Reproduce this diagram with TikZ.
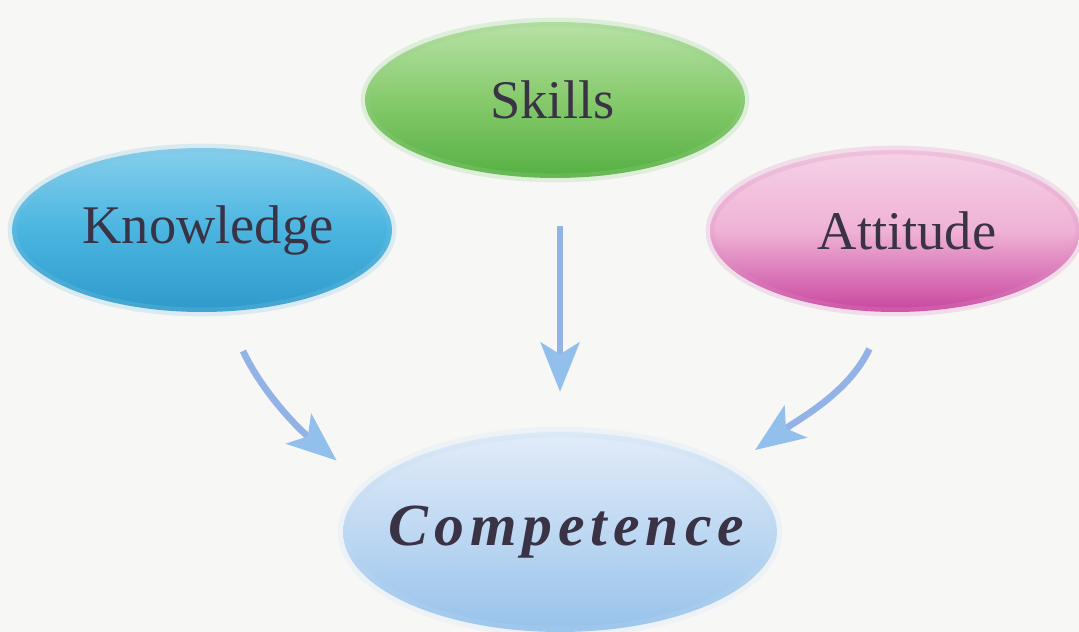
\documentclass[tikz,border=0pt]{standalone}
\usepackage{fontspec}
\setmainfont{Liberation Serif}
\usetikzlibrary{shapes.geometric,arrows.meta,calc}
\definecolor{bg}{HTML}{F7F8F6}
\definecolor{txt}{HTML}{3A3346}
\definecolor{kTop}{HTML}{86CFEC}
\definecolor{kMid}{HTML}{4AB5E0}
\definecolor{kBot}{HTML}{2E9ACB}
\definecolor{sTop}{HTML}{B8E2A6}
\definecolor{sMid}{HTML}{86CA6C}
\definecolor{sBot}{HTML}{55B042}
\definecolor{aTop}{HTML}{F5D2E6}
\definecolor{aMid}{HTML}{EFB2D5}
\definecolor{aBot}{HTML}{C8459E}
\definecolor{cTop}{HTML}{E2ECF8}
\definecolor{cMid}{HTML}{BED8F2}
\definecolor{cBot}{HTML}{96C2EA}
\definecolor{arrc}{HTML}{93B3E6}
\definecolor{arrh}{HTML}{92BFEC}
\tikzset{
  blob/.style={ellipse, inner sep=0pt, text=txt,
    font=\fontsize{31}{36}\selectfont},
  arr/.style={draw=arrc, line width=3.8pt,
    -{Stealth[length=1.0cm, width=0.8cm, inset=0.25cm, color=arrh, line width=0pt]}}
}
\begin{document}
\begin{tikzpicture}[x=0.02cm,y=-0.02cm]
\fill[bg] (0,0) rectangle (1079,632);
\useasboundingbox (0,0) rectangle (1079,632);

\node[blob, minimum width=7.6cm, minimum height=3.12cm,
  top color=sTop, bottom color=sBot, middle color=sMid,
  draw=sBot!60, draw opacity=0.25, line width=5pt]
  (skills) at (555,100) {\makebox[0pt]{\hspace*{-0.1cm}Skills}};

\node[blob, minimum width=7.6cm, minimum height=3.28cm,
  top color=kTop, bottom color=kBot, middle color=kMid,
  draw=kBot!60, draw opacity=0.25, line width=5pt]
  (know) at (202,230) {\makebox[0pt]{\hspace*{0.24cm}\raisebox{0.2cm}{Knowledge}}};

\node[blob, minimum width=7.4cm, minimum height=3.24cm,
  top color=aTop, bottom color=aBot, middle color=aMid,
  draw=aBot!60, draw opacity=0.25, line width=5pt]
  (att) at (895,231) {\makebox[0pt]{\hspace*{0.48cm}Attitude}};

\node[blob, minimum width=8.68cm, minimum height=4.0cm,
  top color=cTop, bottom color=cBot, middle color=cMid,
  draw=cBot!60, draw opacity=0.2, line width=6pt]
  (comp) at (560,532) {\makebox[0pt]{\hspace*{0.25cm}\fontsize{34}{40}\selectfont\bfseries\itshape\addfontfeature{LetterSpace=10}Competence}};

\draw[arr, shorten <=0.78cm, shorten >=0.7cm]
  (know.-74) to[out=-65, in=140] (comp.166);
\draw[arr, shorten <=0.88cm, shorten >=0.7cm]
  (skills.south -| comp.north) -- (comp.north);
\draw[arr, shorten <=0.72cm, shorten >=0.55cm]
  (att.-97) to[out=-115, in=35] (comp.21);
\end{tikzpicture}
\end{document}
